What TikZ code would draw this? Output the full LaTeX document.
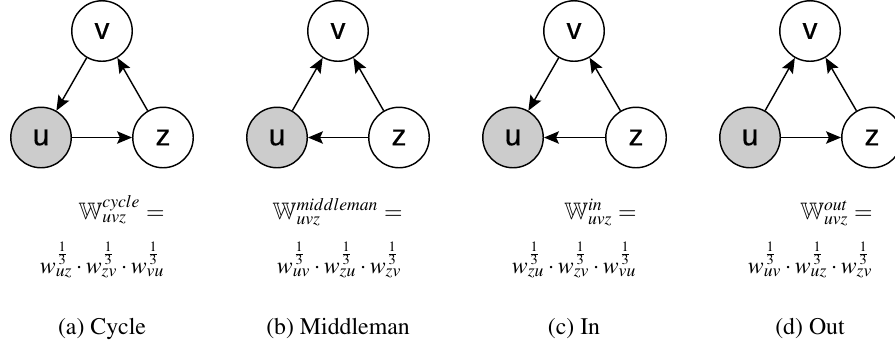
\documentclass[tikz,border=0pt]{standalone}
\usepackage[T1]{fontenc}
\usepackage{amssymb}
\usepackage{mathptmx}
\usepackage[no-math]{fontspec}
\newfontfamily\lblfont[FakeBold=0.5]{Liberation Sans}
\usetikzlibrary{arrows.meta}
\begin{document}
\begin{tikzpicture}[x=0.42pt,y=-0.42pt,
  vtx/.style={circle,draw,line width=0.6pt,minimum size=25.4pt,inner sep=0pt,fill=white,
    font=\lblfont\fontsize{12.5}{15}\selectfont},
  src/.style={vtx,fill={rgb,255:red,204;green,204;blue,204}},
  arr/.style={-{Stealth[length=6.3pt,width=5.2pt,inset=1.2pt]},line width=0.6pt},
  fml/.style={anchor=base east,inner sep=0pt,font=\fontsize{10}{12}\selectfont},
  captxt/.style={anchor=base,inner sep=0pt,font=\fontsize{10}{12}\usefont{T1}{ptm}{m}{n}}]
\useasboundingbox (0,0) rectangle (895,346);
% (a) Cycle
\node[vtx] (va) at (102,31) {v};
\node[src] (ua) at (41,137.5) {u};
\node[vtx] (za) at (163,137.5) {z};
\draw[arr] (va) -- (ua);
\draw[arr] (ua) -- (za);
\draw[arr] (za) -- (va);
\node[fml] (fa1) at (165,219) {$\mathbb{W}^{cycle}_{uvz} =$};
\node[fml] (fa2) at (165,273) {$w^{\frac{1}{3}}_{uz}\cdot w^{\frac{1}{3}}_{zv}\cdot w^{\frac{1}{3}}_{vu}$};
\node[captxt] (capa) at (102,334) {(a) Cycle};
% (b) Middleman
\node[vtx] (vb) at (338,31) {v};
\node[src] (ub) at (277,137.5) {u};
\node[vtx] (zb) at (399,137.5) {z};
\draw[arr] (ub) -- (vb);
\draw[arr] (zb) -- (vb);
\draw[arr] (zb) -- (ub);
\node[fml] (fb1) at (403,219) {$\mathbb{W}^{middleman}_{uvz} =$};
\node[fml] (fb2) at (402,273) {$w^{\frac{1}{3}}_{uv}\cdot w^{\frac{1}{3}}_{zu}\cdot w^{\frac{1}{3}}_{zv}$};
\node[captxt] (capb) at (338,334) {(b) Middleman};
% (c) In
\node[vtx] (vc) at (574,31) {v};
\node[src] (uc) at (513,137.5) {u};
\node[vtx] (zc) at (636,137.5) {z};
\draw[arr] (vc) -- (uc);
\draw[arr] (zc) -- (vc);
\draw[arr] (zc) -- (uc);
\node[fml] (fc1) at (637,219) {$\mathbb{W}^{in}_{uvz} =$};
\node[fml] (fc2) at (637,273) {$w^{\frac{1}{3}}_{zu}\cdot w^{\frac{1}{3}}_{zv}\cdot w^{\frac{1}{3}}_{vu}$};
\node[captxt] (capc) at (574,334) {(c) In};
% (d) Out
\node[vtx] (vd) at (810,31) {v};
\node[src] (ud) at (750,137.5) {u};
\node[vtx] (zd) at (872,137.5) {z};
\draw[arr] (ud) -- (vd);
\draw[arr] (zd) -- (vd);
\draw[arr] (ud) -- (zd);
\node[fml] (fd1) at (873,219) {$\mathbb{W}^{out}_{uvz} =$};
\node[fml] (fd2) at (873,273) {$w^{\frac{1}{3}}_{uv}\cdot w^{\frac{1}{3}}_{uz}\cdot w^{\frac{1}{3}}_{zv}$};
\node[captxt] (capd) at (810,334) {(d) Out};
\end{tikzpicture}
\end{document}
